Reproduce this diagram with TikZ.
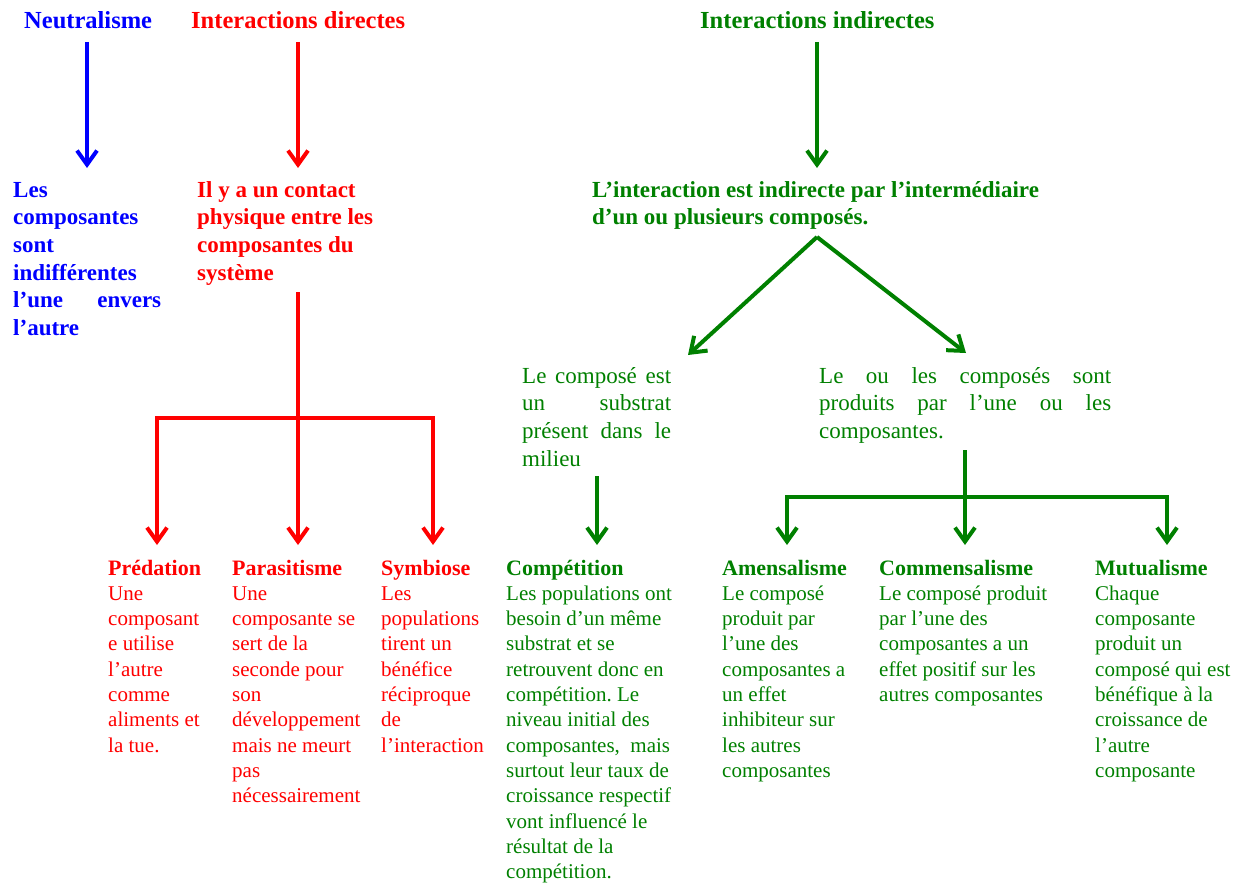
\documentclass[tikz,border=0pt]{standalone}
\usepackage{fontspec}
\setmainfont{Liberation Serif}
\usetikzlibrary{arrows.meta}
\frenchspacing
\definecolor{nblue}{RGB}{0,0,255}
\definecolor{dred}{RGB}{255,0,0}
\definecolor{igreen}{RGB}{0,128,0}
\newcommand{\jline}[1]{\makebox[\hsize][s]{#1}}
\tikzset{
  link/.style={line width=4pt},
  arr/.style={link,-{Straight Barb[length=14pt,width=20pt]}},
  title/.style={anchor=base west,inner sep=0pt,font=\bfseries\fontsize{24.5}{28}\selectfont},
  boldtxt/.style={anchor=base west,inner sep=0pt,align=flush left,font=\bfseries\fontsize{23}{27.7}\selectfont},
  midtxt/.style={anchor=base west,inner sep=0pt,align=flush left,font=\fontsize{23}{27.7}\selectfont},
  bodytxt/.style={anchor=base west,inner sep=0pt,align=flush left,font=\fontsize{21}{25.3}\selectfont},
}
\newcommand{\hd}[1]{{\bfseries\fontsize{22}{25.3}\selectfont #1}}
\begin{document}
\begin{tikzpicture}[x=1pt,y=-1pt]
\useasboundingbox (0,0) rectangle (1248,883);

% headings
\node[title,text=nblue] (neu) at (24,29) {Neutralisme};
\node[title,text=dred] (dir) at (191,29) {Interactions directes};
\node[title,text=igreen] (ind) at (700,29) {Interactions indirectes};

% second level
\node[boldtxt,text=nblue,text width=148pt] (neutxt) at (13,197)
  {Les\\composantes\\sont\\indifférentes\\\jline{l’une envers}\\l’autre};
\node[boldtxt,text=dred,text width=200pt] (dirtxt) at (197,197)
  {Il y a un contact\\physique entre les\\composantes du\\système};
\node[boldtxt,text=igreen,text width=470pt] (indtxt) at (592,197)
  {L’interaction est indirecte par l’intermédiaire\\d’un ou plusieurs composés.};

% indirect branches
\node[midtxt,text=igreen,text width=149pt] (subst) at (522,383)
  {\jline{Le composé est}\\\jline{un substrat}\\\jline{présent dans le}\\milieu};
\node[midtxt,text=igreen,text width=292pt] (prod) at (819,383)
  {\jline{Le ou les composés sont}\\\jline{produits par l’une ou les}\\composantes.};

% leaves
\node[bodytxt,text=dred,text width=110pt] (pred) at (108,575)
  {\hd{Prédation}\\Une\\composant\\e utilise\\l’autre\\comme\\aliments et\\la tue.};
\node[bodytxt,text=dred,text width=140pt] (para) at (232,575)
  {\hd{Parasitisme}\\Une\\composante se\\sert de la\\seconde pour\\son\\développement\\mais ne meurt\\pas\\nécessairement};
\node[bodytxt,text=dred,text width=120pt] (symb) at (381,575)
  {\hd{Symbiose}\\Les\\populations\\tirent un\\bénéfice\\réciproque\\de\\l’interaction};
\node[bodytxt,text=igreen,text width=180pt] (comp) at (506,575)
  {\hd{Compétition}\\Les populations ont\\besoin d’un même\\substrat et se\\retrouvent donc en\\compétition. Le\\niveau initial des\\composantes,\ \ mais\\surtout leur taux de\\croissance respectif\\vont influencé le\\résultat de la\\compétition.};
\node[bodytxt,text=igreen,text width=150pt] (amen) at (722,575)
  {\hd{Amensalisme}\\Le composé\\produit par\\l’une des\\composantes a\\un effet\\inhibiteur sur\\les autres\\composantes};
\node[bodytxt,text=igreen,text width=200pt] (comm) at (879,575)
  {\hd{Commensalisme}\\Le composé produit\\par l’une des\\composantes a un\\effet positif sur les\\autres composantes};
\node[bodytxt,text=igreen,text width=150pt] (mutu) at (1095,575)
  {\hd{Mutualisme}\\Chaque\\composante\\produit un\\composé qui est\\bénéfique à la\\croissance de\\l’autre\\composante};

% connector end points
\coordinate (nA) at (87,42);   \coordinate (nB) at (87,168);
\coordinate (dA) at (298,42);  \coordinate (dB) at (298,168);
\coordinate (iA) at (817,42);  \coordinate (iB) at (817,168);
\coordinate (dC) at (298,292); \coordinate (dJ) at (298,418);
\coordinate (vA) at (817,237);
\coordinate (vL) at (688,355); \coordinate (vR) at (966,353);
\coordinate (sA) at (597,476); \coordinate (sB) at (597,545);
\coordinate (pA) at (965,450); \coordinate (pJ) at (965,497);
\coordinate (predT) at (157,545); \coordinate (paraT) at (298,545);
\coordinate (symbT) at (433,545);
\coordinate (amenT) at (787,545); \coordinate (commT) at (965,545);
\coordinate (mutuT) at (1167,545);

% arrows
\draw[arr,nblue] (nA) -- (nB);
\draw[arr,dred] (dA) -- (dB);
\draw[arr,igreen] (iA) -- (iB);

\draw[link,dred] (dC) -- (dJ);
\draw[arr,dred] (dJ) -| (predT);
\draw[arr,dred] (dJ) -- (paraT);
\draw[arr,dred] (dJ) -| (symbT);

\draw[arr,igreen] (vA) -- (vL);
\draw[arr,igreen] (vA) -- (vR);
\draw[arr,igreen] (sA) -- (sB);

\draw[link,igreen] (pA) -- (pJ);
\draw[arr,igreen] (pJ) -| (amenT);
\draw[arr,igreen] (pJ) -- (commT);
\draw[arr,igreen] (pJ) -| (mutuT);
\end{tikzpicture}
\end{document}
